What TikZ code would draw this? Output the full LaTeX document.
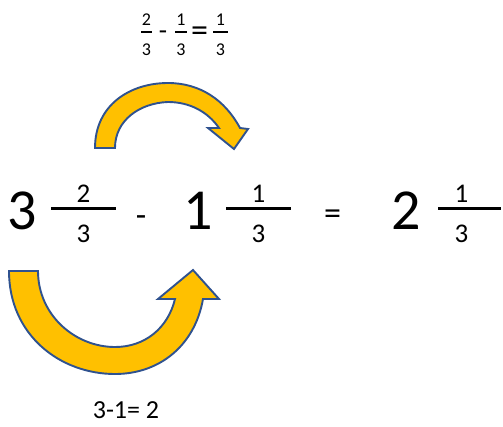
\documentclass[tikz,border=0pt]{standalone}
\usepackage{fontspec}
\setmainfont{Carlito}
\usetikzlibrary{calc}
\definecolor{SlideGold}{HTML}{FFC000}
\definecolor{SlideNavy}{HTML}{2F528F}
\colorlet{ArrowFill}{SlideGold}
\colorlet{ArrowLine}{SlideNavy}
\tikzset{
  ArrowBody/.style={fill=ArrowFill, draw=ArrowLine, line width=1.9pt, line join=miter},
  Whole/.style={inner sep=0pt, anchor=base, font=\fontsize{58}{60}\selectfont},
  Part/.style={inner sep=0pt, anchor=base, font=\fontsize{27}{30}\selectfont},
  Sign/.style={inner sep=0pt, anchor=base, font=\fontsize{34}{36}\selectfont},
  Tiny/.style={inner sep=0pt, anchor=base, font=\fontsize{18}{20}\selectfont},
  Note/.style={inner sep=0pt, anchor=base, font=\fontsize{26}{28}\selectfont},
  FracBar/.style={line width=2.6pt},
  TinyBar/.style={line width=1.8pt}
}

\begin{document}
\begin{tikzpicture}[x=1pt, y=-1pt]
  \useasboundingbox (0,0) rectangle (503,426);

  % top: fractional parts
  \node[Tiny] (TopNumA) at (146.5,25) {2};
  \node[Tiny] (TopDenA) at (146.5,55) {3};
  \node[Part] (TopMinus) at (163,39) {-};
  \node[Tiny] (TopNumB) at (181,25) {1};
  \node[Tiny] (TopDenB) at (181,55) {3};
  \node[Sign] (TopEq) at (199.5,41) {=};
  \node[Tiny] (TopNumC) at (220.5,25) {1};
  \node[Tiny] (TopDenC) at (220.5,55) {3};
  \coordinate (TopBarAl) at (141,32);   \coordinate (TopBarAr) at (152,32);
  \coordinate (TopBarBl) at (175,32);   \coordinate (TopBarBr) at (187,32);
  \coordinate (TopBarCl) at (213,32);   \coordinate (TopBarCr) at (228,32);
  \draw[TinyBar] (TopBarAl) -- (TopBarAr);
  \draw[TinyBar] (TopBarBl) -- (TopBarBr);
  \draw[TinyBar] (TopBarCl) -- (TopBarCr);

  % upper arrow
  \draw[ArrowBody] (95,148) .. controls (95,105) and (130,83) .. (168,83)
    .. controls (200,83) and (225,100) .. (240,128)
    -- (248,129) -- (234,149) -- (208,128) -- (219,128)
    .. controls (208,112) and (190,102) .. (168,102)
    .. controls (140,103) and (115,120) .. (115,148) -- cycle;

  % main row
  \node[Whole] (WholeA) at (22,229.5) {3};
  \node[Part] (NumA) at (83.5,202) {2};
  \node[Part] (DenA) at (83.5,242) {3};
  \node[Sign] (Minus) at (141,226.5) {-};
  \node[Whole] (WholeB) at (198,229.5) {1};
  \node[Part] (NumB) at (258.5,202) {1};
  \node[Part] (DenB) at (258.5,242) {3};
  \node[Sign] (Equal) at (332.5,224) {=};
  \node[Whole] (WholeC) at (406,229.5) {2};
  \node[Part] (NumC) at (461.5,202) {1};
  \node[Part] (DenC) at (461.5,242) {3};
  \coordinate (BarAl) at (51,208.5);    \coordinate (BarAr) at (116,208.5);
  \coordinate (BarBl) at (226,208.5);   \coordinate (BarBr) at (291,208.5);
  \coordinate (BarCl) at (438,208.5);   \coordinate (BarCr) at (501,208.5);
  \draw[FracBar] (BarAl) -- (BarAr);
  \draw[FracBar] (BarBl) -- (BarBr);
  \draw[FracBar] (BarCl) -- (BarCr);

  % lower arrow
  \draw[ArrowBody] (9,271) .. controls (9,335) and (60,374) .. (115,374)
    .. controls (160,374) and (195,345) .. (203,299)
    -- (219,299) -- (193,270) -- (158,299) -- (175,299)
    .. controls (168,328) and (145,347) .. (115,347)
    .. controls (75,347) and (38,315) .. (38,271) -- cycle;

  % bottom: whole parts
  \node[Note] (WholeSum) at (126,418) {3-1= 2};
\end{tikzpicture}
\end{document}
